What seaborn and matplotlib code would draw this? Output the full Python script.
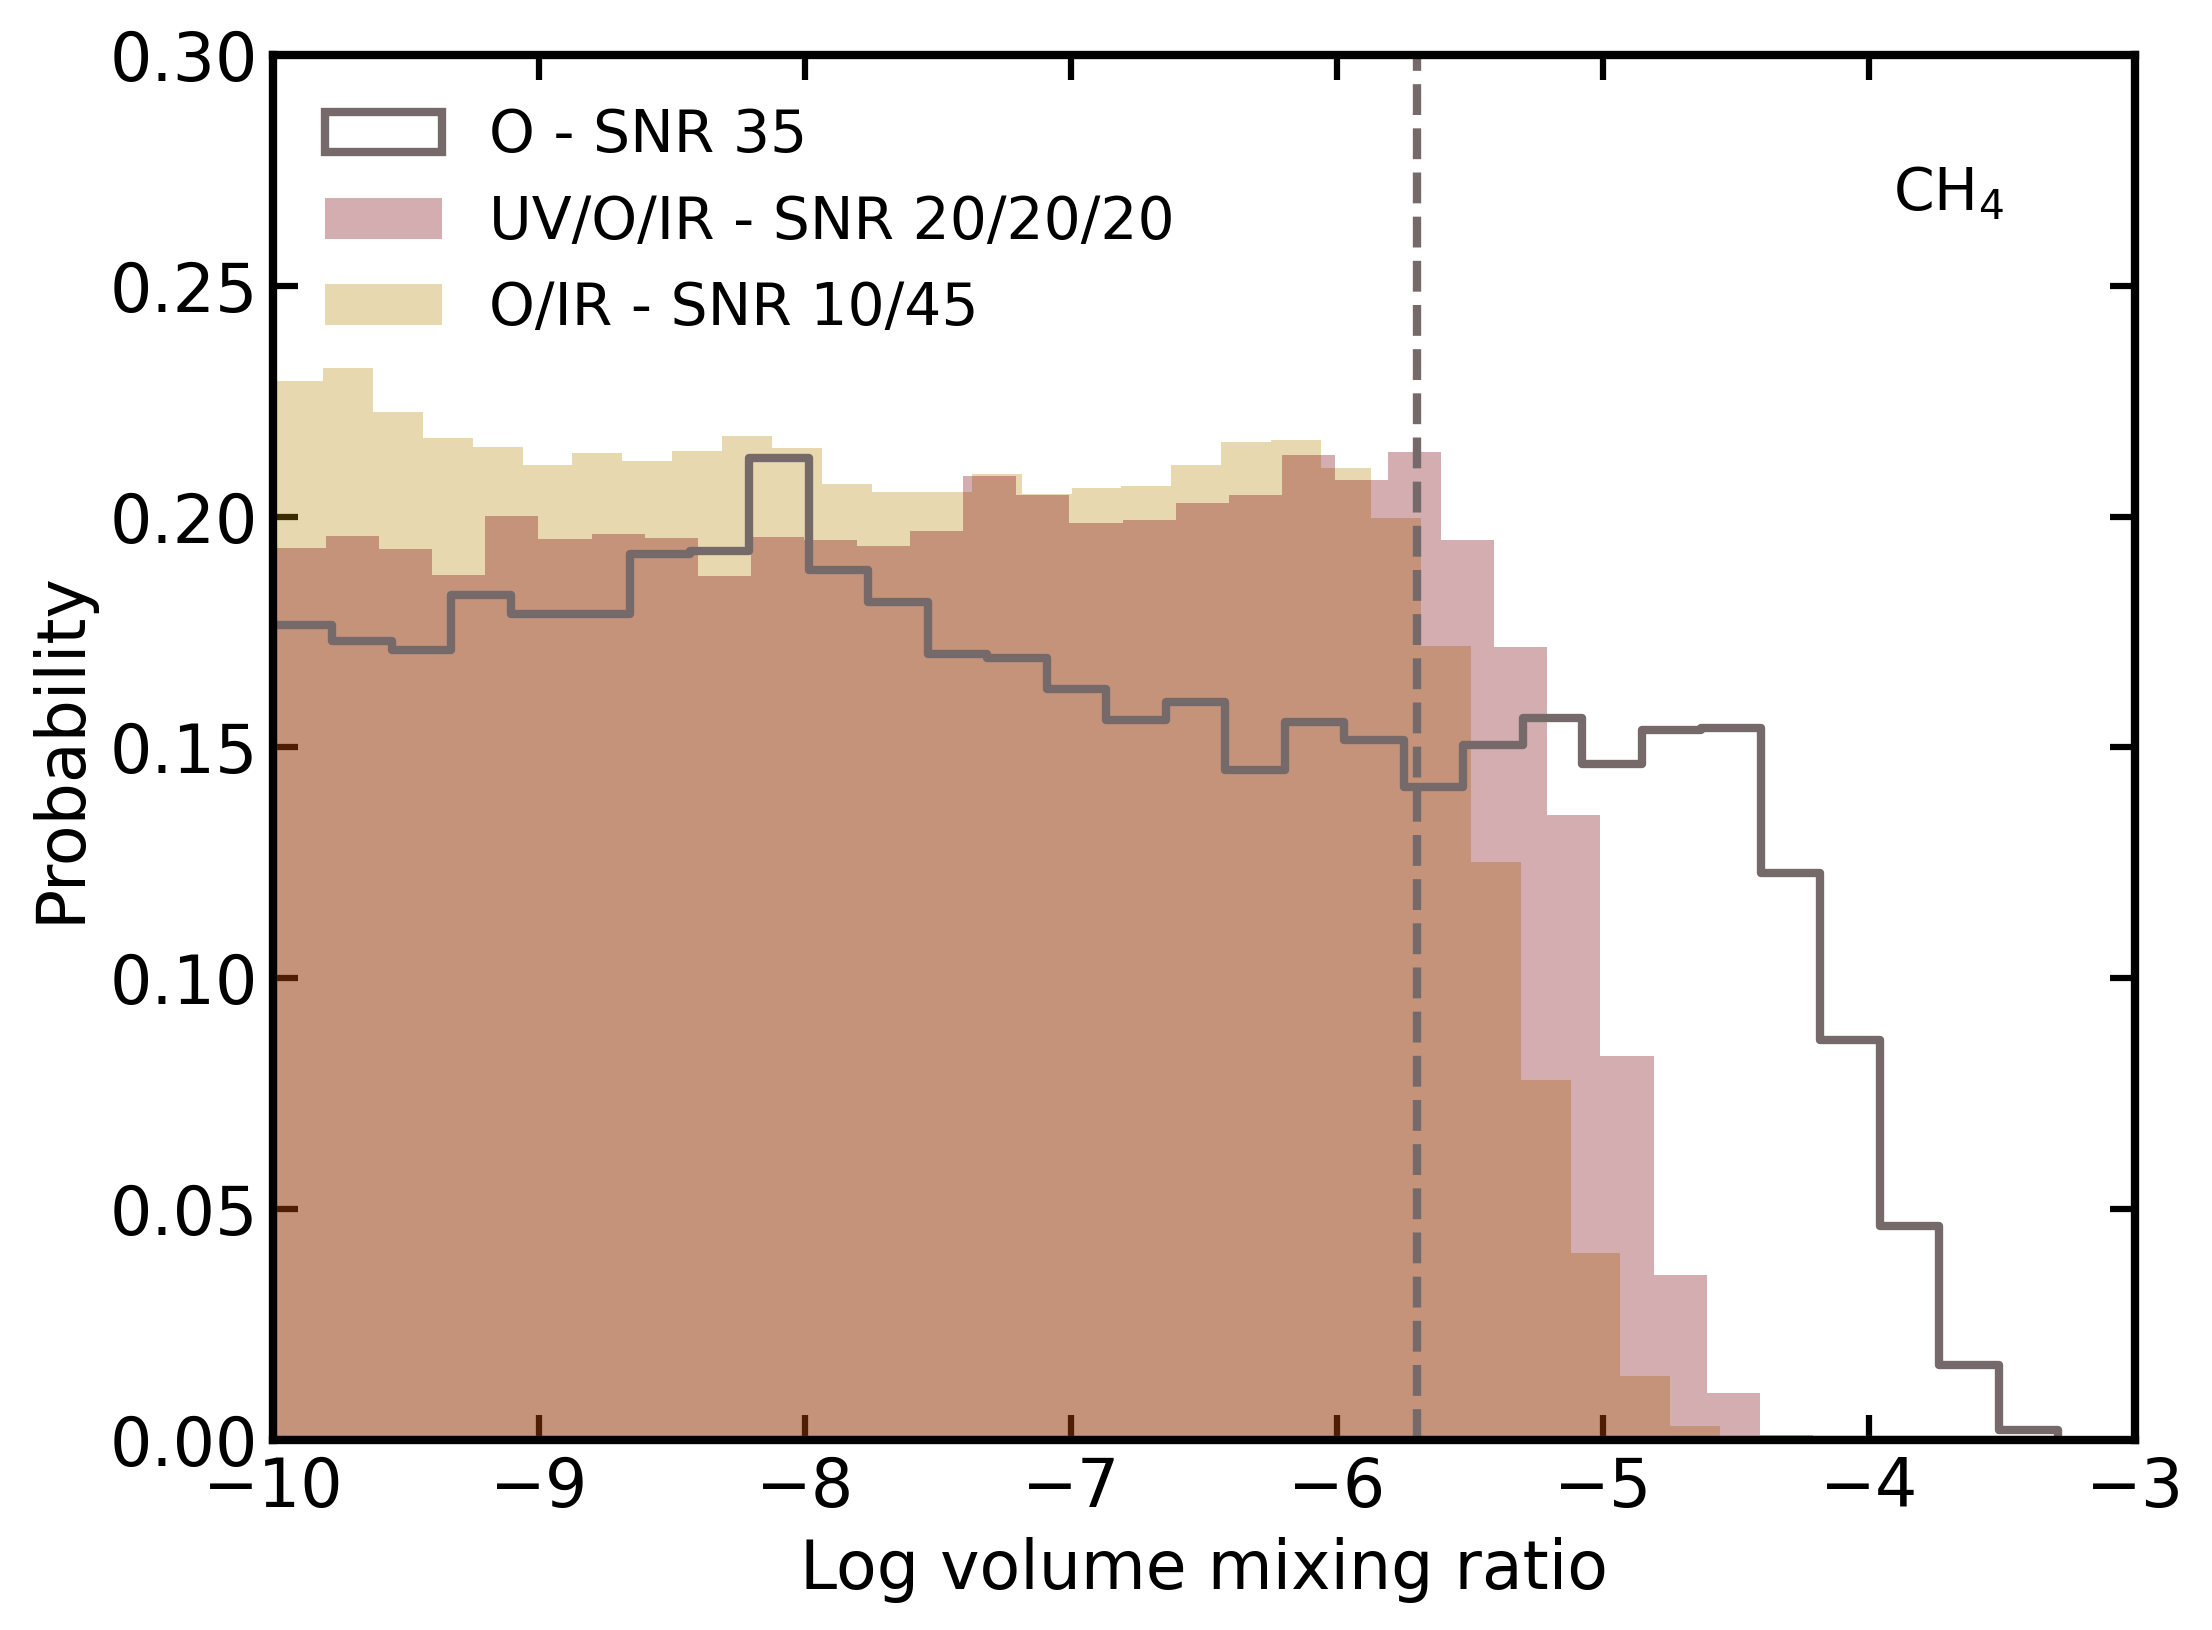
import numpy as np
import matplotlib
matplotlib.use("Agg")
import matplotlib.pyplot as plt
from matplotlib.patches import Patch
import seaborn as sns

# posterior histograms of log10 CH4 mixing ratio (density)
# O - SNR 35 : 30 bins between -10 and -3.29
o_lo, o_hi, o_n = -10.0, -3.289, 30
o_heights = [0.1765, 0.1730, 0.1711, 0.1830, 0.1789, 0.1788, 0.1918, 0.1925, 0.2127, 0.1884,
             0.1814, 0.1702, 0.1693, 0.1626, 0.1559, 0.1598, 0.1452, 0.1555, 0.1517, 0.1415,
             0.1506, 0.1563, 0.1464, 0.1537, 0.1543, 0.1228, 0.0867, 0.0463, 0.0162, 0.0022]

# UV/O/IR - SNR 20/20/20 : 29 bins between -10 and -4.21
uv_lo, uv_hi, uv_n = -10.0, -4.211, 29
uv_heights = [0.1931, 0.1957, 0.1929, 0.1873, 0.2001, 0.1951, 0.1962, 0.1953, 0.1871, 0.1955,
              0.1949, 0.1936, 0.1968, 0.2088, 0.2046, 0.1986, 0.1992, 0.2029, 0.2046, 0.2133,
              0.2079, 0.2140, 0.1949, 0.1717, 0.1353, 0.0832, 0.0357, 0.0101, 0.0011]

# O/IR - SNR 10/45 : 29 bins between -10 and -4.56
ir_lo, ir_hi, ir_n = -10.0, -4.559, 29
ir_heights = [0.2294, 0.2322, 0.2227, 0.2170, 0.2150, 0.2111, 0.2137, 0.2120, 0.2142, 0.2174,
              0.2149, 0.2070, 0.2053, 0.2053, 0.2092, 0.2049, 0.2062, 0.2066, 0.2111, 0.2161,
              0.2166, 0.2105, 0.1997, 0.1719, 0.1251, 0.0779, 0.0404, 0.0138, 0.0031]

true_value = -5.70

labels = ["O - SNR 35", "UV/O/IR - SNR 20/20/20", "O/IR - SNR 10/45"]
line_color = "#766969"
uv_color = "#790208"
ir_color = "darkgoldenrod"
fill_alpha = 0.32


def centers(lo, hi, n):
    w = (hi - lo) / n
    return lo + w * (np.arange(n) + 0.5)


sns.set_style("ticks", {"xtick.direction": "in", "ytick.direction": "in"})
plt.rcParams.update({
    "font.family": ["DejaVu Sans"],
    "text.color": "black",
    "axes.labelcolor": "black",
    "axes.linewidth": 2,
    "xtick.major.size": 6,
    "ytick.major.size": 6,
    "xtick.major.width": 1.5,
    "ytick.major.width": 1.5,
    "xtick.labelsize": 16,
    "ytick.labelsize": 16,
    "axes.labelsize": 16,
    "xtick.top": True,
    "ytick.right": True,
    "xtick.color": "black",
    "ytick.color": "black",
    "axes.edgecolor": "black",
})

fig = plt.figure(figsize=(2212 / 300, 1630 / 300), dpi=300)
ax = fig.add_axes([0.1234, 0.1166, 0.9652 - 0.1234, 0.9663 - 0.1166])

sns.histplot(x=centers(ir_lo, ir_hi, ir_n), weights=ir_heights, bins=ir_n,
             binrange=(ir_lo, ir_hi), stat="count", element="step", fill=True,
             color=ir_color, alpha=fill_alpha, linewidth=0, edgecolor="none", ax=ax)
sns.histplot(x=centers(uv_lo, uv_hi, uv_n), weights=uv_heights, bins=uv_n,
             binrange=(uv_lo, uv_hi), stat="count", element="step", fill=True,
             color=uv_color, alpha=fill_alpha, linewidth=0, edgecolor="none", ax=ax)
sns.histplot(x=centers(o_lo, o_hi, o_n), weights=o_heights, bins=o_n,
             binrange=(o_lo, o_hi), stat="count", element="step", fill=True,
             color=line_color, facecolor="none", edgecolor=line_color, linewidth=2, ax=ax)

ax.axvline(true_value, color=line_color, linestyle="--", linewidth=2)

ax.set_xlim(-10, -3)
ax.set_ylim(0, 0.30)
ax.set_xticks([-10, -9, -8, -7, -6, -5, -4, -3])
ax.set_yticks([0.0, 0.05, 0.10, 0.15, 0.20, 0.25, 0.30])
ax.yaxis.set_major_formatter(matplotlib.ticker.FormatStrFormatter("%.2f"))
ax.set_xlabel("Log volume mixing ratio", color="black")
ax.set_ylabel("Probability", color="black")
ax.set_axisbelow(True)
for side in ["top", "right", "bottom", "left"]:
    ax.spines[side].set_visible(True)
    ax.spines[side].set_linewidth(2)
    ax.spines[side].set_color("black")

handles = [
    Patch(facecolor="white", edgecolor=line_color, linewidth=2),
    Patch(facecolor=uv_color, alpha=fill_alpha, edgecolor="none"),
    Patch(facecolor=ir_color, alpha=fill_alpha, edgecolor="none"),
]
leg = ax.legend(handles, labels, loc="upper left", frameon=False, fontsize=14)
for t in leg.get_texts():
    t.set_color("black")

ax.text(0.9, 0.9, r"CH$_4$", transform=ax.transAxes, ha="center", va="center",
        fontsize=14, color="black")

fig.savefig("out.png", dpi=300)
